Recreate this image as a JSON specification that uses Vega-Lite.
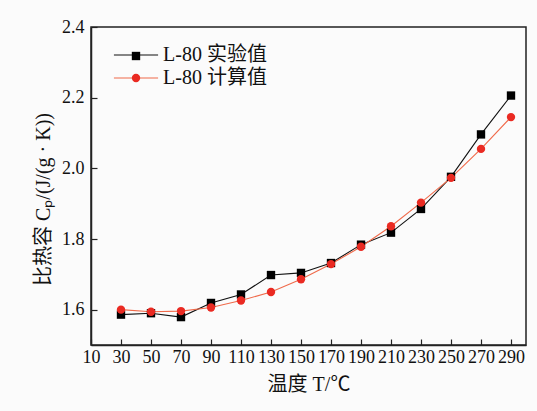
{
  "$schema": "https://vega.github.io/schema/vega-lite/v6.json",
  "width": 435,
  "height": 318,
  "autosize": {"type": "none"},
  "padding": {"left": 91, "top": 27, "right": 11, "bottom": 66},
  "background": "#fbfbfb",
  "config": {
    "view": {"stroke": "#222", "strokeWidth": 1.5},
    "font": "Liberation Serif",
    "axis": {
      "grid": false,
      "domainColor": "#222",
      "domainWidth": 1.5,
      "tickColor": "#222",
      "tickWidth": 1.2,
      "tickSize": -6,
      "labelFont": "Liberation Serif",
      "labelFontSize": 18,
      "labelColor": "#111",
      "titleFont": "Liberation Serif, Noto Sans CJK SC",
      "titleFontSize": 20,
      "titleFontWeight": "normal",
      "titleColor": "#111"
    }
  },
  "data": {
    "values": [
      {"T": 30, "series": "L-80 实验值", "Cp": 1.586},
      {"T": 50, "series": "L-80 实验值", "Cp": 1.590},
      {"T": 70, "series": "L-80 实验值", "Cp": 1.579},
      {"T": 90, "series": "L-80 实验值", "Cp": 1.619},
      {"T": 110, "series": "L-80 实验值", "Cp": 1.643},
      {"T": 130, "series": "L-80 实验值", "Cp": 1.698},
      {"T": 150, "series": "L-80 实验值", "Cp": 1.704},
      {"T": 170, "series": "L-80 实验值", "Cp": 1.732},
      {"T": 190, "series": "L-80 实验值", "Cp": 1.784},
      {"T": 210, "series": "L-80 实验值", "Cp": 1.818},
      {"T": 230, "series": "L-80 实验值", "Cp": 1.885},
      {"T": 250, "series": "L-80 实验值", "Cp": 1.976},
      {"T": 270, "series": "L-80 实验值", "Cp": 2.096},
      {"T": 290, "series": "L-80 实验值", "Cp": 2.206},
      {"T": 30, "series": "L-80 计算值", "Cp": 1.600},
      {"T": 50, "series": "L-80 计算值", "Cp": 1.594},
      {"T": 70, "series": "L-80 计算值", "Cp": 1.596},
      {"T": 90, "series": "L-80 计算值", "Cp": 1.606},
      {"T": 110, "series": "L-80 计算值", "Cp": 1.626},
      {"T": 130, "series": "L-80 计算值", "Cp": 1.650},
      {"T": 150, "series": "L-80 计算值", "Cp": 1.686},
      {"T": 170, "series": "L-80 计算值", "Cp": 1.729},
      {"T": 190, "series": "L-80 计算值", "Cp": 1.778},
      {"T": 210, "series": "L-80 计算值", "Cp": 1.836},
      {"T": 230, "series": "L-80 计算值", "Cp": 1.903},
      {"T": 250, "series": "L-80 计算值", "Cp": 1.973},
      {"T": 270, "series": "L-80 计算值", "Cp": 2.055},
      {"T": 290, "series": "L-80 计算值", "Cp": 2.145}
    ]
  },
  "encoding": {
    "x": {
      "field": "T",
      "type": "quantitative",
      "scale": {"domain": [10, 300], "nice": false, "zero": false},
      "axis": {
        "values": [10, 30, 50, 70, 90, 110, 130, 150, 170, 190, 210, 230, 250, 270, 290],
        "labelPadding": 9,
        "labelOverlap": false,
        "labelFlush": false,
        "title": "温度 T/℃",
        "titlePadding": 8
      }
    },
    "y": {
      "field": "Cp",
      "type": "quantitative",
      "scale": {"domain": [1.5, 2.4], "nice": false, "zero": false},
      "axis": {
        "values": [1.6, 1.8, 2.0, 2.2, 2.4],
        "format": ".1f",
        "labelPadding": 13,
        "labelOverlap": false,
        "labelFlush": false,
        "title": "比热容 Cₚ/(J/(g · K))",
        "titlePadding": 8,
        "titleY": 172
      }
    }
  },
  "layer": [
    {
      "mark": {"type": "line", "strokeWidth": 1.1},
      "encoding": {
        "stroke": {
          "field": "series",
          "type": "nominal",
          "scale": {"range": ["#111111", "#f06a4a"]},
          "legend": {
            "title": null,
            "orient": "none",
            "legendX": 35,
            "legendY": 18,
            "padding": 0,
            "symbolType": "M-5,0L5,0",
            "symbolSize": 78,
            "symbolStrokeWidth": 1.1,
            "labelFont": "Liberation Serif, Noto Sans CJK SC",
            "labelFontSize": 20,
            "labelColor": "#111",
            "labelOffset": 17,
            "rowPadding": 3
          }
        }
      }
    },
    {
      "mark": {"type": "point", "filled": true, "opacity": 1, "size": 70},
      "encoding": {
        "shape": {
          "field": "series",
          "type": "nominal",
          "scale": {"domain": ["L-80 实验值", "L-80 计算值"], "range": ["square", "circle"]}
        },
        "color": {
          "field": "series",
          "type": "nominal",
          "scale": {"domain": ["L-80 实验值", "L-80 计算值"], "range": ["#000000", "#ea2a22"]},
          "legend": {
            "title": null,
            "orient": "none",
            "legendX": 40,
            "legendY": 24,
            "padding": 0,
            "symbolSize": 70,
            "symbolOpacity": 1,
            "labelFontSize": 9,
            "labelOpacity": 0,
            "labelExpr": "''",
            "rowPadding": 6
          }
        }
      }
    }
  ]
}
